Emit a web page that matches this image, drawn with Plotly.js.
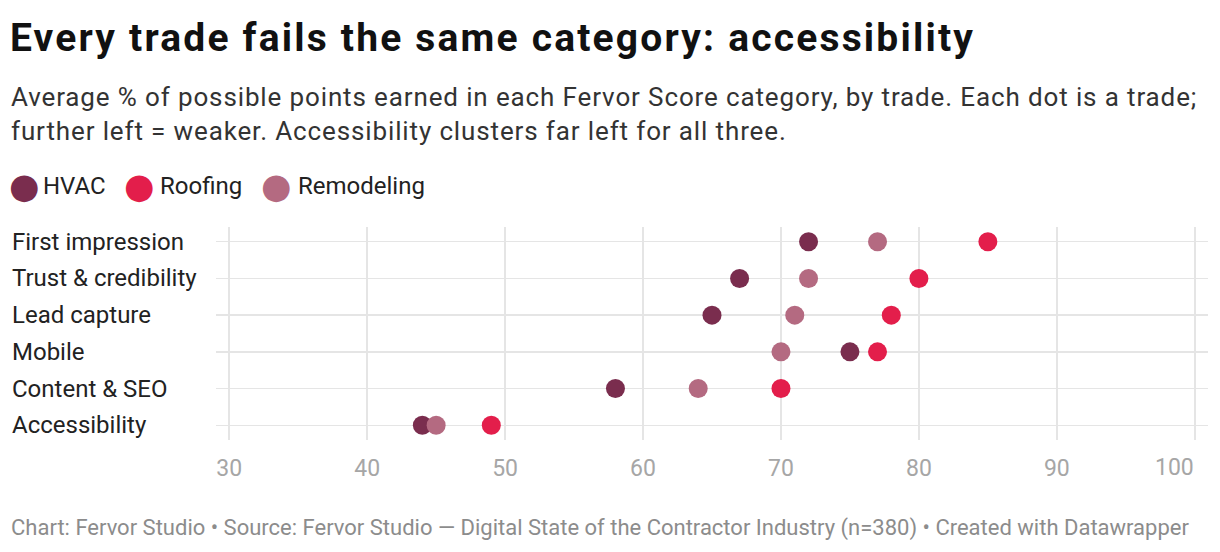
<!DOCTYPE html>
<html>
<head>
<meta charset="utf-8">
<script src="https://cdn.plot.ly/plotly-3.0.1.min.js"></script>
<style>
html,body{margin:0;padding:0;background:#fff;}
#chart{width:1220px;height:552px;}
</style>
</head>
<body>
<div id="chart"></div>
<script>
const categories = ["First impression","Trust & credibility","Lead capture","Mobile","Content & SEO","Accessibility"];
const seriesNames = ["HVAC","Roofing","Remodeling"];
const seriesColors = ["#7a2d4e","#e31e4b","#b46a81"];
const hvac = [72, 67, 65, 75, 58, 44];
const roofing = [85, 80, 78, 77, 70, 49];
const remodeling = [77, 72, 71, 70, 64, 45];
const xTicks = [30, 40, 50, 60, 70, 80, 90, 100];

const titleText = 'Every trade fails the same category: accessibility';
const subtitleText = 'Average % of possible points earned in each Fervor Score category, by trade. Each dot is a trade;<br>further left = weaker. Accessibility clusters far left for all three.';
const footerText = 'Chart: Fervor Studio • Source: Fervor Studio — Digital State of the Contractor Industry (n=380) • Created with Datawrapper';

const seriesValues = [hvac, roofing, remodeling];
const W = 1220, H = 552;
const M = {l: 216, r: 12, t: 227, b: 112};
const plotW = W - M.l - M.r, plotH = H - M.t - M.b;
const px = x => (x - M.l) / plotW;
const py = y => (H - M.b - y) / plotH;

// legend layout (pixel positions of the legend entries)
const legendDotX = [24, 139, 276];
const legendTextX = [41, 158, 296];
const legendY = 186;
const tickFont = {family: 'Roboto', size: 23, color: '#a6a6a6'};

const drawOrder = [0, 2, 1];
const traces = drawOrder.map(i => ({
  type: 'scatter',
  mode: 'markers',
  name: seriesNames[i],
  x: seriesValues[i],
  y: categories,
  marker: {color: seriesColors[i], size: 19, line: {width: 0}},
  showlegend: false,
  hoverinfo: 'x+name'
}));

const annotations = [];
categories.forEach(c => annotations.push({
  xref: 'paper', yref: 'y', x: px(10), y: c, xanchor: 'left', yanchor: 'middle',
  text: c.replace(/&/g, '&amp;'), showarrow: false,
  font: {family: 'Roboto', size: 24, color: '#222'}
}));

seriesNames.forEach((n, i) => {
  annotations.push({
    xref: 'paper', yref: 'paper', x: px(legendDotX[i]), y: py(legendY), xanchor: 'center', yanchor: 'middle',
    text: '●', showarrow: false, font: {family: 'DejaVu Sans', size: 35, color: seriesColors[i]}
  });
  annotations.push({
    xref: 'paper', yref: 'paper', x: px(legendTextX[i]), y: py(legendY), xanchor: 'left', yanchor: 'middle',
    text: n, showarrow: false, font: {family: 'Roboto', size: 24, color: '#222'}
  });
});

const subtitleIdx = annotations.length;
annotations.push({
  xref: 'paper', yref: 'paper', x: px(9), y: py(114), xanchor: 'left', yanchor: 'middle', align: 'left',
  text: subtitleText, showarrow: false, font: {family: 'Roboto', size: 26, color: '#333'}
});
annotations.push({
  xref: 'paper', yref: 'paper', x: px(9), y: py(528), xanchor: 'left', yanchor: 'middle', align: 'left',
  text: footerText, showarrow: false, font: {family: 'Roboto', size: 22, color: '#8c8c8c'}
});

// last tick label is right-aligned to its gridline
const lastTick = xTicks[xTicks.length - 1];
const tickText = xTicks.map((v, i) => i === xTicks.length - 1 ? '' : String(v));
annotations.push({
  xref: 'x', yref: 'paper', x: lastTick, y: py(467), xanchor: 'right', yanchor: 'middle',
  text: String(lastTick), showarrow: false, font: tickFont, borderpad: 0
});

const layout = {
  width: W, height: H,
  margin: M,
  paper_bgcolor: '#fff', plot_bgcolor: '#fff',
  font: {family: 'Roboto', color: '#222'},
  title: {
    text: '<b>' + titleText + '</b>',
    xref: 'container', yref: 'container', x: 10 / W, xanchor: 'left',
    y: 1 - 37 / H, yanchor: 'middle',
    font: {family: 'Roboto', size: 39, color: '#111'}
  },
  xaxis: {
    range: [29.04, 100.96], tickvals: xTicks, ticktext: tickText,
    showgrid: true, gridcolor: '#e5e5e5', gridwidth: 1.6, zeroline: false, showline: false,
    ticks: 'outside', ticklen: 7, tickcolor: 'rgba(0,0,0,0)',
    tickfont: tickFont, fixedrange: true
  },
  yaxis: {
    type: 'category', categoryorder: 'array', categoryarray: categories,
    range: [5.4, -0.4], showgrid: true, gridcolor: '#e5e5e5', gridwidth: 1.6,
    zeroline: false, showline: false, showticklabels: false, ticks: '', fixedrange: true
  },
  showlegend: false,
  annotations: annotations
};

function spreadTo(textEl, firstLineEl, target) {
  if (!textEl || !firstLineEl) return;
  const len = firstLineEl.getComputedTextLength();
  const n = (firstLineEl.textContent || '').length;
  if (n > 1 && len < target) {
    textEl.style.letterSpacing = ((target - len) / (n - 1)).toFixed(2) + 'px';
  }
}

Plotly.newPlot('chart', traces, layout, {displayModeBar: false, staticPlot: true}).then(() => {
  const t = document.querySelector('#chart .gtitle');
  spreadTo(t, t, 963);
  const sub = document.querySelector('#chart .annotation[data-index="' + subtitleIdx + '"] .annotation-text');
  if (sub) {
    const line = sub.querySelector('tspan.line') || sub;
    spreadTo(sub, line, 1185);
  }
});
</script>
</body>
</html>
